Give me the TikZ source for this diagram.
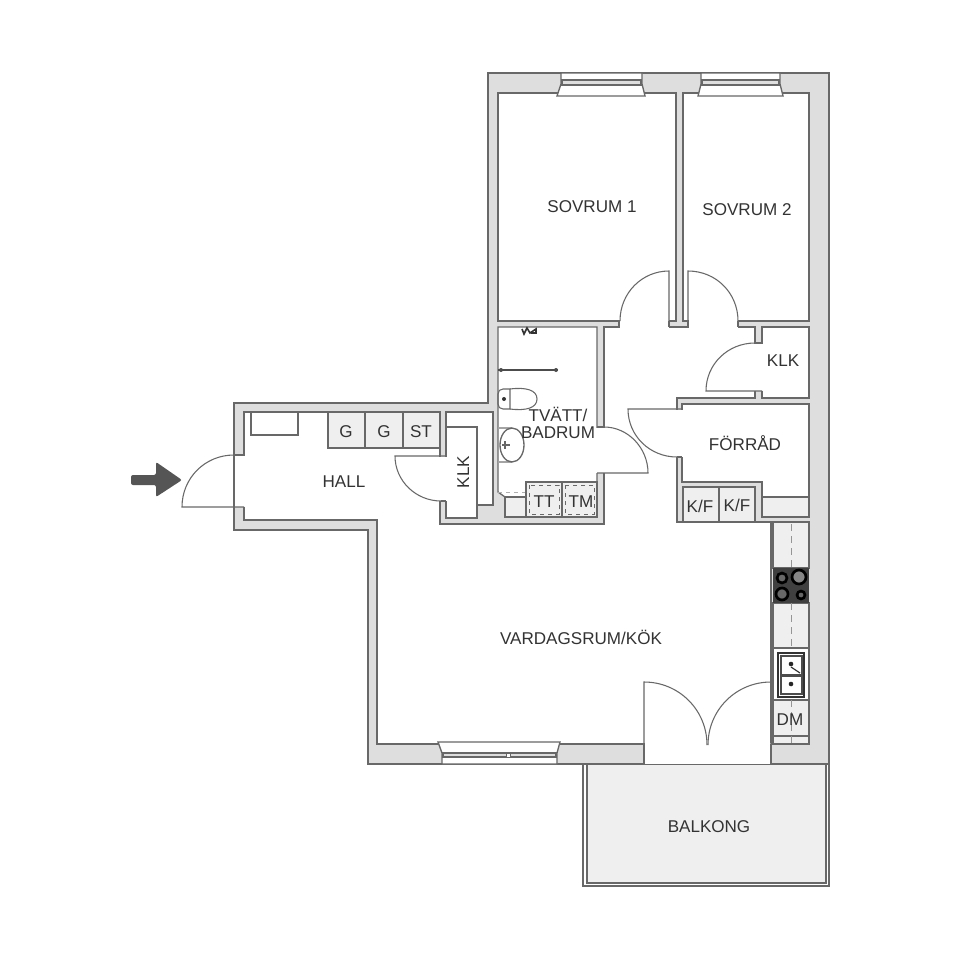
\documentclass[tikz,border=0pt]{standalone}
\usepackage{fontspec}
\setmainfont{Liberation Sans}
\definecolor{wallline}{HTML}{686868}
\definecolor{wallfill}{HTML}{DEDEDE}
\definecolor{unitfill}{HTML}{EFEFEF}
\definecolor{labeltext}{HTML}{333333}
\definecolor{darkfill}{HTML}{555555}
\tikzset{
  wall/.style={draw=wallline,fill=wallfill,line width=1pt,line join=miter},
  room/.style={draw=wallline,fill=white,line width=1pt,line join=miter},
  unit/.style={draw=wallline,fill=unitfill,line width=1pt},
  gap/.style={fill=white,draw=none},
  doorline/.style={draw=wallline,line width=0.8pt},
  roomlabel/.style={font=\fontsize{12.8}{14}\selectfont,text=labeltext,inner sep=0pt,text height=9.2pt,text depth=0pt},
}
\begin{document}
\begin{tikzpicture}[x=0.75pt,y=0.75pt,yscale=-1,xscale=1]
\useasboundingbox (0,0) rectangle (960,960);

%Shape: Balcony
\draw [draw=wallline,fill=white,line width=0.8pt] (583,764) -- (829,764) -- (829,886) -- (583,886) -- cycle ;
\draw [unit] (587,764) -- (826,764) -- (826,883) -- (587,883) -- cycle ;
%Shape: Outer wall
\draw [wall] (488,73) -- (829,73) -- (829,764) -- (368,764) -- (368,530) -- (234,530) -- (234,403) -- (488,403) -- cycle ;
%Shape: Bedrooms
\draw [room] (498,93) -- (676,93) -- (676,321) -- (498,321) -- cycle ;
\draw [room] (683,93) -- (809,93) -- (809,321) -- (683,321) -- cycle ;
%Shape: Bathroom
\draw [room] (498,327) -- (597,327) -- (597,517) -- (505,517) -- (505,497) -- (498,492) -- cycle ;
%Shape: Closets
\draw [room] (762,327) -- (809,327) -- (809,398) -- (762,398) -- cycle ;
\draw [room] (682,404) -- (809,404) -- (809,517) -- (762,517) -- (762,482) -- (682,482) -- cycle ;
\draw [room] (446,412) -- (493,412) -- (493,505) -- (477,505) -- (477,518) -- (446,518) -- cycle ;
%Shape: Hall, corridor and living room
\draw [room] (604,327) -- (755,327) -- (755,398) -- (677,398) -- (677,522) -- (771,522) -- (771,744) -- (377,744) -- (377,520) -- (244,520) -- (244,412) -- (440,412) -- (440,524) -- (604,524) -- cycle ;

%Door openings
\fill [gap] (620,320) rectangle (668.5,328) ;
\fill [gap] (688.5,320) rectangle (737.5,328) ;
\fill [gap] (754,343.5) rectangle (763,390.5) ;
\fill [gap] (676,409.5) rectangle (683,456.5) ;
\fill [gap] (596,427.5) rectangle (605,472.5) ;
\fill [gap] (439,456.5) rectangle (447,500.5) ;
\fill [gap] (234.5,455.5) rectangle (245,506.5) ;
\fill [gap] (644.5,743) rectangle (770.5,763.5) ;

%Door ends
\draw [doorline] (619,321) -- (619,327) ;
\draw [doorline] (738,321) -- (738,327) ;
\draw [doorline] (669,321) -- (669,327) ;
\draw [doorline] (688,321) -- (688,327) ;
\draw [doorline] (755,343) -- (762,343) ;
\draw [doorline] (677,457) -- (682,457) ;
\draw [doorline] (597,427) -- (604,427) ;
\draw [doorline] (441,501) -- (446,501) ;
\draw [doorline] (234,455) -- (244,455) ;
\draw [doorline] (644,744) -- (644,764) ;
\draw [doorline] (771,744) -- (771,764) ;

%Door leaves
\draw [doorline] (669,321) -- (669,271) .. controls (642,271) and (620,293) .. (620,321) ;
\draw [doorline] (688,321) -- (688,271) .. controls (716,271) and (738,293) .. (738,321) ;
\draw [doorline] (762,391) -- (706,391) .. controls (706,364) and (728,343) .. (755,343) ;
\draw [doorline] (682,409) -- (628,409) .. controls (628,436) and (650,457) .. (677,457) ;
\draw [doorline] (597,473) -- (648,473) .. controls (648,448) and (628,427) .. (604,427) ;
\draw [doorline] (446,456) -- (395,456) .. controls (395,481) and (416,501) .. (441,501) ;
\draw [doorline] (244,507) -- (182,507) .. controls (182,478) and (205,455) .. (234,455) ;
\draw [doorline] (644,744) -- (644,682) .. controls (679,682) and (707,710) .. (707,745) ;
\draw [doorline] (771,744) -- (771,682) .. controls (736,682) and (708,710) .. (708,745) ;

%Shape: Top windows
\draw [room] (561,73) -- (642,73) -- (642,84) -- (645,96) -- (557,96) -- (561,84) -- cycle ;
\draw [draw=wallline,fill=wallfill,line width=0.8pt] (562,80) rectangle (641,85) ;
\draw [room] (701,73) -- (780,73) -- (780,84) -- (783,96) -- (698,96) -- (701,84) -- cycle ;
\draw [draw=wallline,fill=wallfill,line width=0.8pt] (702,80) rectangle (779,85) ;
%Shape: Bottom window
\draw [room] (442,764) -- (557,764) -- (557,753) -- (560,742) -- (438,742) -- (442,753) -- cycle ;
\draw [draw=wallline,fill=wallfill,line width=0.8pt] (443,753) rectangle (556,757) ;
\draw [draw=wallline,fill=white,line width=0.5pt] (506,753) rectangle (510,757) ;

%Shape: Hall furniture
\draw [doorline] (251,412) -- (251,435) -- (298,435) -- (298,412) ;
\draw [unit] (328,412) rectangle (365,448) ;
\draw [unit] (365,412) rectangle (403,448) ;
\draw [unit] (403,412) rectangle (440,448) ;
\draw [doorline,line width=1pt] (446,427) -- (477,427) -- (477,518) -- (446,518) ;

%Shape: Bathroom fittings
\draw [draw=black!70,line width=1pt] (498,370) -- (558,370) ;
\fill [black!70] (501,370) circle (2) ;
\fill [black!70] (556,370) circle (2) ;
\draw [doorline] (510,389) .. controls (526,387) and (537,390) .. (537,399) .. controls (537,408) and (526,411) .. (510,409) ;
\draw [doorline] (510,389) -- (503,389) .. controls (500,389) and (498,391) .. (498,394) -- (498,404) .. controls (498,407) and (500,409) .. (503,409) -- (510,409) -- cycle ;
\fill [black!80] (504,399) circle (2) ;
\draw [draw=wallline!60,line width=0.8pt] (498,428) -- (512,428) (498,462) -- (512,462) ;
\draw [draw=wallline,line width=1pt] (512,445) ellipse [x radius=12,y radius=17] ;
\draw [doorline] (502,445) -- (510,445) (505,441) -- (505,449) ;
\draw [draw=black!80,line width=1.2pt] (522,329) -- (524,334) -- (527,328) -- (530,333) -- (536,329) -- (536,333) -- (531,333) ;
\draw [unit] (505,497) rectangle (526,517) ;
\draw [draw=wallfill!60!wallline,dashed,line width=0.7pt] (498,492) -- (526,492) ;
\draw [unit] (526,482) rectangle (562,517) ;
\draw [unit] (562,482) rectangle (597,517) ;
\draw [draw=wallline,dashed,line width=0.7pt] (529,485) rectangle (559,514) ;
\draw [draw=wallline,dashed,line width=0.7pt] (565,485) rectangle (594,514) ;

%Shape: Storage units
\draw [unit] (683,487) rectangle (719,522) ;
\draw [unit] (719,487) rectangle (755,522) ;
\draw [unit] (762,497) rectangle (809,517) ;

%Shape: Kitchen counter
\draw [unit] (773,522) rectangle (809,568) ;
\draw [unit] (773,603) rectangle (809,648) ;
\draw [room] (773,648) rectangle (809,700) ;
\draw [unit] (773,700) rectangle (809,736) ;
\draw [unit] (773,736) rectangle (809,744) ;
\draw [draw=wallline!70,dash pattern={on 5pt off 4pt},line width=0.6pt] (791,524) -- (791,568) ;
\draw [draw=wallline!70,dash pattern={on 5pt off 4pt},line width=0.6pt] (791,603) -- (791,648) ;
\draw [draw=wallline!70,dash pattern={on 5pt off 4pt},line width=0.6pt] (791,700) -- (791,744) ;
%Shape: Hob
\fill [black!75] (773,568) rectangle (809,603) ;
\draw [draw=black,fill=wallline,line width=2pt] (782,578) circle (5) ;
\draw [draw=black,fill=wallline!80,line width=2pt] (799,577) circle (7) ;
\draw [draw=black,fill=wallline,line width=2pt] (782,594) circle (6) ;
\draw [draw=black,fill=wallline,line width=2pt] (801,595) circle (4) ;
%Shape: Sink
\draw [draw=black!80,line width=1pt] (778,653) rectangle (804,697) ;
\draw [draw=black!70,line width=1pt] (781,656) rectangle (802,675) ;
\draw [draw=black!70,line width=1pt] (781,676) rectangle (802,694) ;
\fill [black!85] (791,664) circle (2.3) ;
\fill [black!85] (791,684) circle (2.3) ;
\draw [draw=black!80,line width=0.9pt] (791,667) -- (800,673) ;

%Shape: Entrance arrow
\draw [draw=none,fill=darkfill,rounded corners=1.5pt] (131,475) -- (156,475) -- (156,462) -- (182,480) -- (156,497) -- (156,485) -- (131,485) -- cycle ;

%Room labels
\node [roomlabel] (sovrumA) at (592,206) {SOVRUM 1};
\node [roomlabel] (sovrumB) at (747,209) {SOVRUM 2};
\node [roomlabel] (klkA) at (783,360) {KLK};
\node [roomlabel,text height=,text depth=,font=\fontsize{12.8}{12.6}\selectfont,align=center] (badrum) at (558,423) {TVÄTT/\\BADRUM};
\node [roomlabel] (forrad) at (745,444) {FÖRRÅD};
\node [roomlabel] (kfA) at (700,506) {K/F};
\node [roomlabel] (kfB) at (737,505) {K/F};
\node [roomlabel] (gA) at (346,431) {G};
\node [roomlabel] (gB) at (384,431) {G};
\node [roomlabel] (st) at (421,431) {ST};
\node [roomlabel,rotate=90] (klkB) at (463,472) {KLK};
\node [roomlabel] (hall) at (344,481) {HALL};
\node [roomlabel] (tt) at (544,501) {TT};
\node [roomlabel] (tm) at (581,501) {TM};
\node [roomlabel] (vardagsrum) at (581,638) {VARDAGSRUM/KÖK};
\node [roomlabel] (dm) at (790,719) {DM};
\node [roomlabel] (balkong) at (709,826) {BALKONG};
\end{tikzpicture}
\end{document}
